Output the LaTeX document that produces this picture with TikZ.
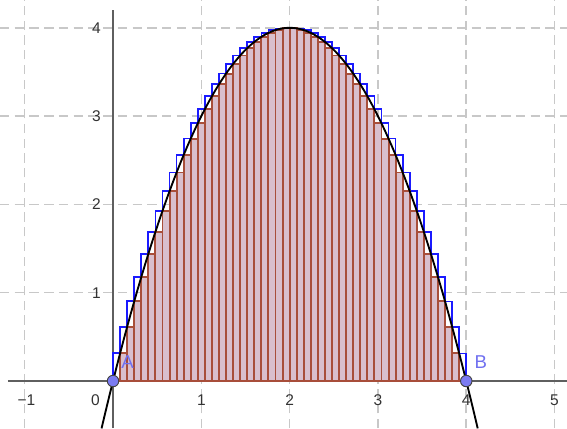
\documentclass[tikz,border=0pt]{standalone}
\usepackage{fontspec}
\setmainfont{Liberation Sans}
\usepackage{xcolor}
\usepackage{tikz}
\usetikzlibrary{calc}
\definecolor{gridc}{HTML}{C8C8C8}
\definecolor{axc}{HTML}{5F5F5F}
\definecolor{txtc}{HTML}{333333}
\definecolor{upc}{HTML}{1A1AFF}
\definecolor{loc}{HTML}{A84E3A}
\definecolor{lofill}{HTML}{D9BFCD}
\definecolor{ptc}{HTML}{7B7BF2}
\definecolor{labc}{HTML}{7070F0}
\tikzset{
  gridln/.style={gridc,line width=1pt,dash pattern=on 6pt off 3.5pt},
  axln/.style={axc,line width=1.3pt},
  upbox/.style={draw=upc,line width=1.1pt},
  lobox/.style={draw=loc,fill=lofill,line width=1.25pt},
  curve/.style={black,line width=1.2pt},
  pt/.style={circle,draw=axc!70!black,fill=ptc,line width=0.6pt,minimum size=7.4pt,inner sep=0pt},
  tk/.style={text=txtc,inner sep=0pt}
}

\begin{document}
\begin{tikzpicture}[x=2cm,y=2cm]
\fill[white] (-1.280,-0.532) rectangle (5.141,4.315);
\useasboundingbox (-1.280,-0.532) rectangle (5.141,4.315);
\foreach \k in {-1,1,2,3,4,5} \draw[gridln] (\k,-0.532)--(\k,4.315);
\foreach \k in {1,...,4} \draw[gridln] (-1.280,\k)--(5.141,\k);
\draw[axln] (-1.19,0)--(5.141,0);
\draw[axln] (0,-0.532)--(0,4.20);
\foreach \i in {0,...,49}{
  \pgfmathsetmacro\xa{0.08*\i}
  \pgfmathsetmacro\xb{0.08*(\i+1)}
  \pgfmathsetmacro\hi{\i<25 ? 4*\xb-\xb*\xb : 4*\xa-\xa*\xa}
  \draw[upbox] (\xa,0) rectangle (\xb,\hi);
}
\foreach \i in {0,...,49}{
  \pgfmathsetmacro\xa{0.08*\i}
  \pgfmathsetmacro\xb{0.08*(\i+1)}
  \pgfmathsetmacro\lo{\i<25 ? 4*\xa-\xa*\xa : 4*\xb-\xb*\xb}
  \draw[lobox] (\xa,0) rectangle (\xb,\lo);
}
\draw[curve,domain=-0.13:4.13,samples=120] plot (\x,{4*\x-\x*\x});
\foreach \k in {1,...,5} \node[tk] (xt\k) at (\k,-0.215) {\k};
\node[tk] (xtm) at (-0.98,-0.215) {−1};
\node[tk] (xt0) at (-0.2,-0.215) {0};
\foreach \k in {1,...,4} \node[tk,anchor=east] (yt\k) at (-0.136,\k) {\k};
\node[pt] (A) at (0,0) {};
\node[pt] (B) at (4,0) {};
\node[font=\large,text=labc,inner sep=0pt] (lA) at (0.164,0.21) {A};
\node[font=\large,text=labc,inner sep=0pt] (lB) at (4.164,0.21) {B};
\end{tikzpicture}
\end{document}
